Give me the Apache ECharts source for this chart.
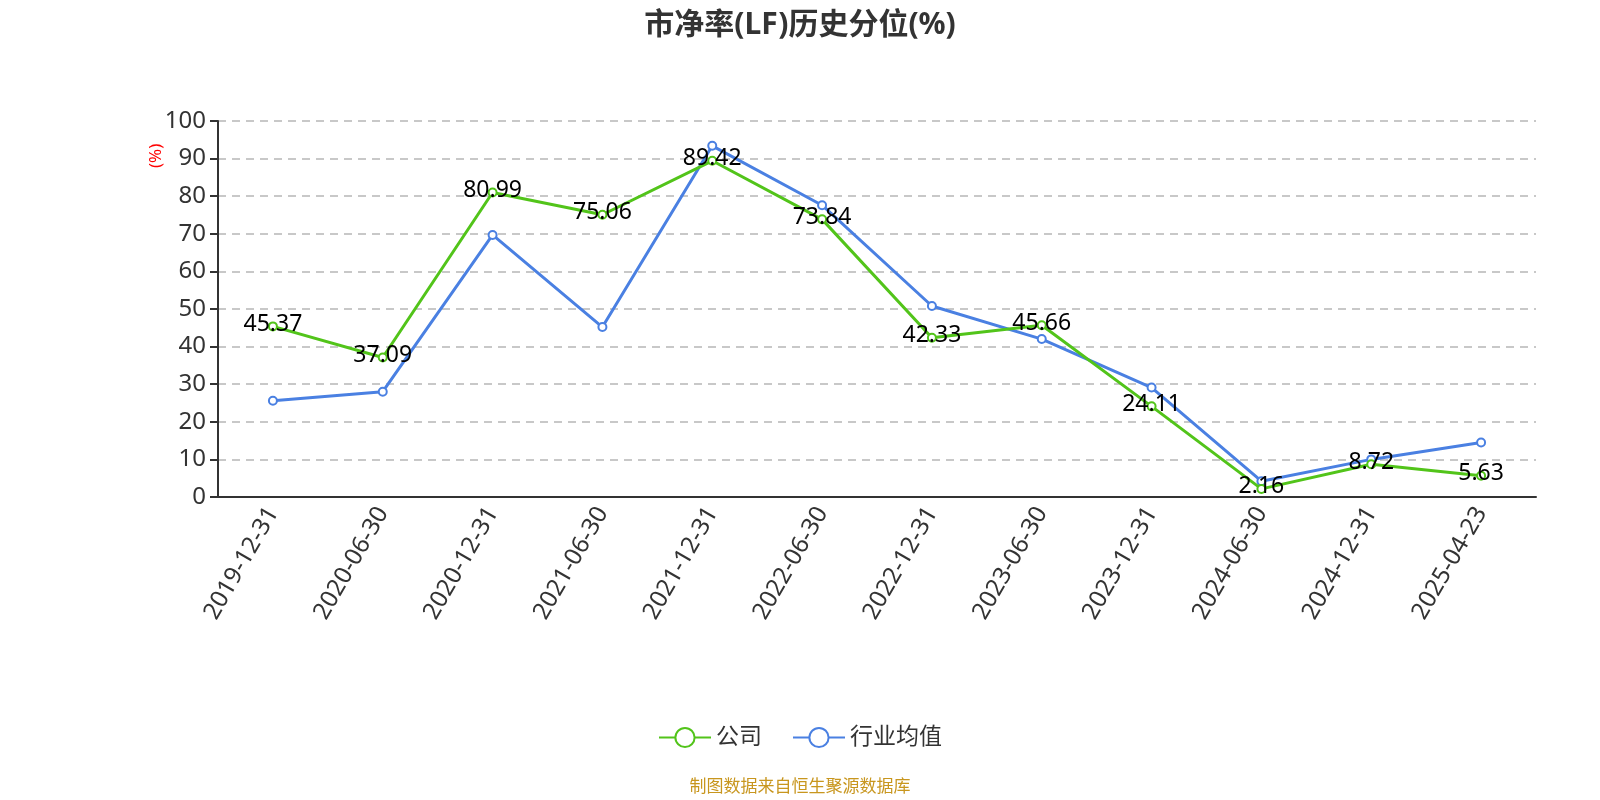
<!DOCTYPE html>
<html><head><meta charset="utf-8">
<script src="https://cdn.jsdelivr.net/npm/echarts@6/dist/echarts.min.js"></script>
<style>html,body{margin:0;padding:0;background:#fff}#c{width:1600px;height:800px}</style>
</head><body><div id="c"></div>
<script>
const categories = ['2019-12-31','2020-06-30','2020-12-31','2021-06-30','2021-12-31','2022-06-30','2022-12-31','2023-06-30','2023-12-31','2024-06-30','2024-12-31','2025-04-23'];
const companyValues = [45.37, 37.09, 80.99, 75.06, 89.42, 73.84, 42.33, 45.66, 24.11, 2.16, 8.72, 5.63];
const industryValues = [25.6, 28.0, 69.7, 45.2, 93.4, 77.6, 50.8, 42.0, 29.1, 4.2, 10.0, 14.5];
const seriesNames = ['公司', '行业均值'];
const FONT = '"Noto Sans","Noto Sans CJK SC",sans-serif';
const chart = echarts.init(document.getElementById('c'));
chart.setOption({
  animation: false,
  textStyle: {fontFamily: FONT},
  title: {text: '市净率(LF)历史分位(%)', left: 'center', top: 5,
    textStyle: {fontSize: 30, fontWeight: 'bold', color: '#333', fontFamily: FONT}},
  legend: {data: seriesNames, bottom: 46, left: 'center', itemWidth: 52, itemHeight: 24, itemGap: 30,
    textStyle: {fontSize: 23, color: '#333', fontFamily: FONT}},
  grid: {left: 218, right: 64, top: 121, bottom: 303},
  xAxis: {type: 'category', data: categories, boundaryGap: true,
    axisLine: {lineStyle: {color: '#333', width: 2}},
    axisTick: {length: 7, lineStyle: {color: '#333', width: 2}},
    axisLabel: {rotate: 60, fontSize: 24, color: '#333', margin: 12, fontFamily: FONT}},
  yAxis: {type: 'value', min: 0, max: 100, interval: 10,
    axisLine: {show: true, lineStyle: {color: '#333', width: 2}},
    axisTick: {show: true, length: 8, lineStyle: {color: '#333', width: 2}},
    axisLabel: {fontSize: 24, color: '#333', margin: 12, fontFamily: FONT},
    splitLine: {lineStyle: {type: [8, 6], color: '#c8c8c8', width: 2}}},
  graphic: [
    {type: 'text', x: 148, y: 168, rotation: Math.PI / 2,
      style: {text: '(%)', fill: '#ff0000', fontSize: 17, fontFamily: FONT}},
    {type: 'text', left: 'center', top: 779,
      style: {text: '制图数据来自恒生聚源数据库', fill: '#c8961e', fontSize: 17, fontFamily: FONT}}
  ],
  series: [
    {name: seriesNames[0], type: 'line', data: companyValues, color: '#52c41a',
      symbol: 'emptyCircle', symbolSize: 8, lineStyle: {width: 3},
      itemStyle: {color: '#52c41a', borderWidth: 2},
      label: {show: true, position: 'inside', offset: [0, -2], fontSize: 23, color: '#000', fontFamily: FONT},
      z: 3},
    {name: seriesNames[1], type: 'line', data: industryValues, color: '#4a80e2',
      symbol: 'emptyCircle', symbolSize: 8, lineStyle: {width: 3},
      itemStyle: {color: '#4a80e2', borderWidth: 2}, z: 2}
  ]
});
</script></body></html>
